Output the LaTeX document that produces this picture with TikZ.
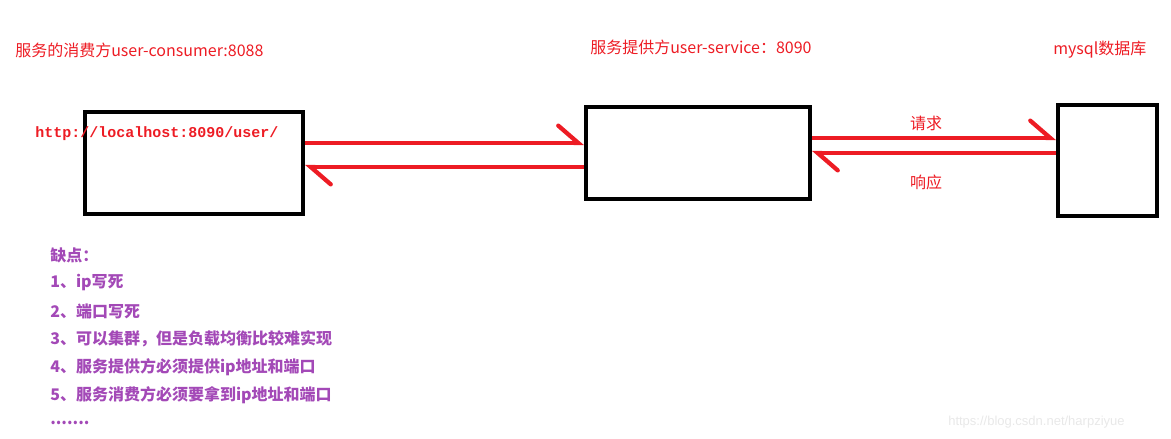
\documentclass[tikz,border=0pt]{standalone}
\usepackage{fontspec}
\usepackage{tikz}
\usetikzlibrary{arrows.meta}
\newfontfamily\cjk{Noto Sans CJK SC}
\newfontfamily\urlfont{Liberation Mono}
\newfontfamily\markfont{Liberation Sans}
\definecolor{penred}{RGB}{237,28,36}
\definecolor{notepurple}{RGB}{163,73,183}
\definecolor{markgray}{RGB}{232,232,232}

\tikzset{
  box/.style={draw=black, line width=3pt, inner sep=0pt},
  redline/.style={draw=penred, line width=3.2pt, -{Straight Barb[harpoon, length=15pt, width=26pt, line cap=round]}},
  redtext/.style={text=penred, inner sep=0pt, font=\cjk\fontsize{12pt}{14pt}\selectfont},
  urltext/.style={text=penred, inner sep=0pt, font=\urlfont\bfseries\fontsize{11.25pt}{13pt}\selectfont},
  notetext/.style={text=notepurple, inner sep=0pt, anchor=west, font=\cjk\bfseries\fontsize{12pt}{14pt}\selectfont}
}

\begin{document}
\begin{tikzpicture}[x=0.75pt,y=0.75pt,yscale=-1,xscale=1]
\useasboundingbox (0,0) rectangle (1171,439);

%Shape: Rectangle
\node[box, minimum width=163.5pt, minimum height=76.5pt] (consumer) at (194,163) {};
%Shape: Rectangle
\node[box, minimum width=168pt, minimum height=69pt] (service) at (698,153) {};
%Shape: Rectangle
\node[box, minimum width=74.25pt, minimum height=83.25pt] (mysql) at (1107.5,160.5) {};

%Straight Lines
\coordinate (callout) at ([yshift=-15pt]consumer.east);
\draw[redline] (callout) -- (callout -| service.west);
\coordinate (callback) at ([yshift=10.5pt]service.west);
\draw[redline] (callback) -- (callback -| consumer.east);
\coordinate (queryout) at ([yshift=-11.25pt]service.east);
\draw[redline] (queryout) -- (queryout -| mysql.west);
\coordinate (queryback) at ([yshift=-5.6pt]mysql.west);
\draw[redline] (queryback) -- (queryback -| service.east);

% Text Node
\node[redtext, anchor=west] (consumertitle) at (15,50) {服务的消费方user-consumer:8088};
% Text Node
\node[redtext, anchor=west] (servicetitle) at (590,47) {服务提供方user-service：8090};
% Text Node
\node[redtext, anchor=west] (mysqltitle) at (1053,50) {mysql数据库};
% Text Node
\node[urltext, anchor=west] (url) at (35,134) {http://localhost:8090/user/};
% Text Node
\node[redtext] (request) at (926,123) {请求};
% Text Node
\node[redtext] (response) at (926,182) {响应};

% Text Node
\node[notetext] (note0) at (50,255) {缺点：};
\node[notetext] (note1) at (50,283) {1、ip写死};
\node[notetext] (note2) at (50,311) {2、端口写死};
\node[notetext] (note3) at (50,339) {3、可以集群，但是负载均衡比较难实现};
\node[notetext] (note4) at (50,367) {4、服务提供方必须提供ip地址和端口};
\node[notetext] (note5) at (50,395) {5、服务消费方必须要拿到ip地址和端口};
\node[notetext] (note6) at (50,423) {.......};

% Text Node
\node[text=markgray, inner sep=0pt, anchor=west, font=\markfont\fontsize{9.75pt}{11pt}\selectfont] (watermark) at (948,422) {https://blog.csdn.net/harpziyue};

\end{tikzpicture}
\end{document}
